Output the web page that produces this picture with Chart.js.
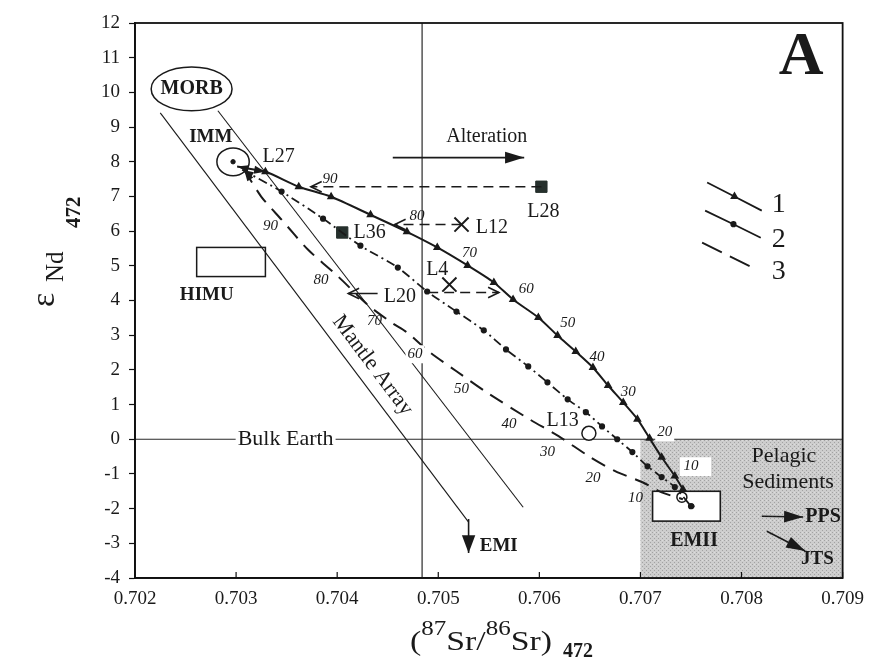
<!DOCTYPE html>
<html>
<head>
<meta charset="utf-8">
<script src="https://cdn.jsdelivr.net/npm/chart.js@4.4.1/dist/chart.umd.min.js"></script>
<style>html,body{margin:0;padding:0;background:#fff}</style>
</head>
<body>
<canvas id="grafico" width="874" height="660"></canvas>
<script>
// axes
const srTicks = [0.702, 0.703, 0.704, 0.705, 0.706, 0.707, 0.708, 0.709];
const ndTicks = [-4, -3, -2, -1, 0, 1, 2, 3, 4, 5, 6, 7, 8, 9, 10, 11, 12];

// mixing curve 1 (solid with ticks)
const curva1Sr = [0.70301, 0.70329, 0.70362, 0.70394, 0.70433, 0.70469, 0.70499, 0.70529, 0.70555, 0.70574, 0.70599, 0.70618, 0.70636, 0.70653, 0.70668, 0.70683, 0.70697, 0.70709, 0.70721, 0.70734, 0.70742];
const curva1Nd = [7.86, 7.71, 7.28, 6.99, 6.47, 5.98, 5.53, 5.01, 4.52, 4.03, 3.51, 2.99, 2.53, 2.07, 1.55, 1.06, 0.58, 0.03, -0.52, -1.06, -1.44];
// mixing curve 2 (dash-dot)
const curva2Sr = [0.70306, 0.70345, 0.70386, 0.70423, 0.70460, 0.70489, 0.70518, 0.70545, 0.70567, 0.70589, 0.70608, 0.70628, 0.70646, 0.70662, 0.70677, 0.70692, 0.70707, 0.70721, 0.70734, 0.70750];
const curva2Nd = [7.77, 7.14, 6.36, 5.58, 4.95, 4.26, 3.68, 3.14, 2.59, 2.10, 1.64, 1.15, 0.78, 0.37, 0.00, -0.37, -0.78, -1.09, -1.38, -1.93];
// mixing curve 3 (dashed)
const curva3Sr = [0.70308, 0.70325, 0.70345, 0.70371, 0.70401, 0.70430, 0.70455, 0.70469, 0.70492, 0.70518, 0.70548, 0.70590, 0.70619, 0.70649, 0.70675, 0.70702, 0.70721, 0.70742];
const curva3Nd = [7.77, 6.99, 6.33, 5.47, 4.69, 3.88, 3.34, 3.08, 2.50, 1.96, 1.35, 0.58, 0.09, -0.49, -0.92, -1.24, -1.53, -1.73];

// mantle array
const manto1Sr = [0.70225, 0.70530];
const manto1Nd = [9.41, -2.39];
const manto2Sr = [0.70282, 0.70584];
const manto2Nd = [9.47, -1.96];

// samples
const cuadradosSr = [0.70602, 0.70405];   // L28, L36
const cuadradosNd = [7.28, 5.96];
const cruzSr = [0.70523, 0.70511];        // L12, L4
const cruzNd = [6.19, 4.46];
const circuloSr = [0.70649];              // L13
const circuloNd = [0.17];
const extremosSr = [0.70297, 0.70751];    // IMM, EMII end members
const extremosNd = [8.0, -1.93];

// horizontal shifts of samples (L28, L12, L4, L20)
const desplazSr0 = [0.70602, 0.70523, 0.70490, 0.70440];
const desplazSr1 = [0.70374, 0.70457, 0.70560, 0.70411];
const desplazNd = [7.28, 6.19, 4.23, 4.20];
const desplazDash = [true, true, true, false];

// arrows: Alteration, EMI, PPS, JTS
const flechaSr0 = [0.70455, 0.70530, 0.70820, 0.70825];
const flechaSr1 = [0.70585, 0.70530, 0.70861, 0.70863];
const flechaNd0 = [8.12, -2.30, -2.22, -2.65];
const flechaNd1 = [8.12, -3.28, -2.24, -3.22];

// boxes / fields
const pelagicSr = [0.7070, 0.7090];
const pelagicNd = [-4, 0];
const emiiSr = [0.70712, 0.70779];
const emiiNd = [-2.36, -1.50];
const himuSr = [0.70261, 0.70329];
const himuNd = [4.69, 5.53];
const morbSr = [0.70216, 0.70296];
const morbNd = [9.47, 10.73];
const immSr = [0.70281, 0.70313];
const immNd = [7.6, 8.4];
const bulkEarthNd = 0;
const lineaVerticalSr = 0.70484;

// legend sample lines
const ley1Sr = [0.70766, 0.70793, 0.70820];
const ley1Nd = [7.40, 7.00, 6.59];
const ley2Sr = [0.70764, 0.70792, 0.70819];
const ley2Nd = [6.59, 6.20, 5.81];
const ley3Sr = [0.70761, 0.70815];
const ley3Nd = [5.67, 4.89];

const serif = '"Liberation Serif", "Times New Roman", serif';
const pts = (xs, ys) => xs.map((x, i) => ({ x: x, y: Array.isArray(ys) ? ys[i] : ys }));

const etiquetas = [
  { t: 'MORB', x: 0.70256, y: 10.10, f: 'bold 20px ' + serif },
  { t: 'IMM', x: 0.70275, y: 8.72, f: 'bold 19px ' + serif },
  { t: 'HIMU', x: 0.70271, y: 4.17, f: 'bold 19px ' + serif },
  { t: 'L27', x: 0.70342, y: 8.14, f: '20px ' + serif },
  { t: 'Alteration', x: 0.70548, y: 8.72, f: '20px ' + serif },
  { t: 'L28', x: 0.70604, y: 6.56, f: '20px ' + serif },
  { t: 'L36', x: 0.70432, y: 5.96, f: '20px ' + serif },
  { t: 'L12', x: 0.70553, y: 6.10, f: '20px ' + serif },
  { t: 'L4', x: 0.70499, y: 4.89, f: '20px ' + serif },
  { t: 'L20', x: 0.70462, y: 4.12, f: '20px ' + serif },
  { t: 'L13', x: 0.70623, y: 0.52, f: '20px ' + serif },
  { t: 'Bulk Earth', x: 0.70349, y: 0, f: '22px ' + serif, bg: true },
  { t: 'EMI', x: 0.70541, y: -3.08, f: 'bold 19px ' + serif, a: 'left' },
  { t: 'EMII', x: 0.70753, y: -2.94, f: 'bold 20px ' + serif },
  { t: 'Pelagic', x: 0.70842, y: -0.49, f: '22px ' + serif },
  { t: 'Sediments', x: 0.70846, y: -1.24, f: '22px ' + serif },
  { t: 'PPS', x: 0.70863, y: -2.24, f: 'bold 20px ' + serif, a: 'left' },
  { t: 'JTS', x: 0.70875, y: -3.45, f: 'bold 19px ' + serif },
  { t: '1', x: 0.70830, y: 6.76, f: '28px ' + serif, a: 'left' },
  { t: '2', x: 0.70830, y: 5.76, f: '28px ' + serif, a: 'left' },
  { t: '3', x: 0.70830, y: 4.83, f: '28px ' + serif, a: 'left' },
  { t: 'A', x: 0.70859, y: 11.0, f: 'bold 62px ' + serif },
  // percentages curve 1
  { t: '90', x: 0.70393, y: 7.51, f: 'italic 15px ' + serif },
  { t: '80', x: 0.70479, y: 6.42, f: 'italic 15px ' + serif },
  { t: '70', x: 0.70531, y: 5.38, f: 'italic 15px ' + serif },
  { t: '60', x: 0.70587, y: 4.32, f: 'italic 15px ' + serif },
  { t: '50', x: 0.70628, y: 3.34, f: 'italic 15px ' + serif },
  { t: '40', x: 0.70657, y: 2.36, f: 'italic 15px ' + serif },
  { t: '30', x: 0.70688, y: 1.35, f: 'italic 15px ' + serif },
  { t: '20', x: 0.70724, y: 0.20, f: 'italic 15px ' + serif, bg: true },
  { t: '10', x: 0.70750, y: -0.78, f: 'italic 15px ' + serif },
  // percentages curve 3
  { t: '90', x: 0.70334, y: 6.16, f: 'italic 15px ' + serif },
  { t: '80', x: 0.70384, y: 4.60, f: 'italic 15px ' + serif },
  { t: '70', x: 0.70437, y: 3.40, f: 'italic 15px ' + serif },
  { t: '60', x: 0.70477, y: 2.45, f: 'italic 15px ' + serif, bg: true },
  { t: '50', x: 0.70523, y: 1.44, f: 'italic 15px ' + serif },
  { t: '40', x: 0.70570, y: 0.43, f: 'italic 15px ' + serif },
  { t: '30', x: 0.70608, y: -0.37, f: 'italic 15px ' + serif },
  { t: '20', x: 0.70653, y: -1.12, f: 'italic 15px ' + serif },
  { t: '10', x: 0.70695, y: -1.70, f: 'italic 15px ' + serif }
];

function punta(ctx, x0, y0, x1, y1, len, abre, abierta) {
  const ang = Math.atan2(y1 - y0, x1 - x0);
  const a1 = ang + Math.PI - abre, a2 = ang + Math.PI + abre;
  ctx.beginPath();
  ctx.moveTo(x1 + len * Math.cos(a1), y1 + len * Math.sin(a1));
  ctx.lineTo(x1, y1);
  ctx.lineTo(x1 + len * Math.cos(a2), y1 + len * Math.sin(a2));
  if (abierta) {
    ctx.stroke();
  } else {
    ctx.closePath();
    ctx.fill();
  }
}

function trama() {
  const c = document.createElement('canvas');
  c.width = 4; c.height = 4;
  const g = c.getContext('2d');
  g.fillStyle = '#cdcdcd';
  g.fillRect(0, 0, 4, 4);
  g.fillStyle = '#a2a2a2';
  g.fillRect(0, 0, 1, 1);
  g.fillRect(2, 2, 1, 1);
  g.fillStyle = '#dcdcdc';
  g.fillRect(2, 0, 1, 1);
  return c;
}

const decor = {
  id: 'decor',
  beforeDatasetsDraw(chart) {
    const { ctx, chartArea: a, scales } = chart;
    const X = v => scales.x.getPixelForValue(v), Y = v => scales.y.getPixelForValue(v);
    ctx.save();
    ctx.fillStyle = ctx.createPattern(trama(), 'repeat');
    ctx.fillRect(X(pelagicSr[0]), Y(pelagicNd[1]), X(pelagicSr[1]) - X(pelagicSr[0]), Y(pelagicNd[0]) - Y(pelagicNd[1]));
    // white box behind "10"
    ctx.fillStyle = '#fff';
    ctx.fillRect(X(0.70739), Y(-0.52), X(0.70770) - X(0.70739), Y(-1.06) - Y(-0.52));
    // EMII box
    ctx.fillRect(X(emiiSr[0]), Y(emiiNd[1]), X(emiiSr[1]) - X(emiiSr[0]), Y(emiiNd[0]) - Y(emiiNd[1]));
    ctx.strokeStyle = '#1a1a1a';
    ctx.lineWidth = 1.6;
    ctx.strokeRect(X(emiiSr[0]), Y(emiiNd[1]), X(emiiSr[1]) - X(emiiSr[0]), Y(emiiNd[0]) - Y(emiiNd[1]));
    // reference lines
    ctx.strokeStyle = '#2a2a2a';
    ctx.lineWidth = 1.2;
    ctx.beginPath();
    ctx.moveTo(X(lineaVerticalSr), a.top);
    ctx.lineTo(X(lineaVerticalSr), a.bottom);
    ctx.moveTo(a.left, Y(bulkEarthNd));
    ctx.lineTo(a.right, Y(bulkEarthNd));
    ctx.stroke();
    ctx.restore();
  },
  afterDatasetsDraw(chart) {
    const { ctx, scales } = chart;
    const X = v => scales.x.getPixelForValue(v), Y = v => scales.y.getPixelForValue(v);
    ctx.save();
    ctx.strokeStyle = '#1a1a1a';
    ctx.fillStyle = '#1a1a1a';
    ctx.lineWidth = 1.5;
    // MORB and IMM ellipses, HIMU box
    [[morbSr, morbNd], [immSr, immNd]].forEach(([sx, sy]) => {
      const cx = (X(sx[0]) + X(sx[1])) / 2, cy = (Y(sy[0]) + Y(sy[1])) / 2;
      ctx.beginPath();
      ctx.ellipse(cx, cy, (X(sx[1]) - X(sx[0])) / 2, (Y(sy[0]) - Y(sy[1])) / 2, 0, 0, Math.PI * 2);
      ctx.stroke();
    });
    ctx.strokeRect(X(himuSr[0]), Y(himuNd[1]), X(himuSr[1]) - X(himuSr[0]), Y(himuNd[0]) - Y(himuNd[1]));
    // arrowheads on mixing curves (toward IMM)
    [[curva1Sr, curva1Nd], [curva2Sr, curva2Nd], [curva3Sr, curva3Nd]].forEach(([sx, sy]) => {
      punta(ctx, X(sx[1]), Y(sy[1]), X(sx[0]), Y(sy[0]), 12, 0.3, false);
    });
    // L27 arrow
    punta(ctx, X(curva1Sr[0]), Y(curva1Nd[0]), X(curva1Sr[1]), Y(curva1Nd[1]), 12, 0.35, false);
    // open heads of sample shifts
    ctx.lineWidth = 1.6;
    desplazSr0.forEach((s0, i) => {
      punta(ctx, X(s0), Y(desplazNd[i]), X(desplazSr1[i]), Y(desplazNd[i]), 12, 0.45, true);
    });
    // filled arrows
    flechaSr0.forEach((s0, i) => {
      punta(ctx, X(s0), Y(flechaNd0[i]), X(flechaSr1[i]), Y(flechaNd1[i]), i === 1 ? 19 : 20, i === 1 ? 0.36 : 0.3, false);
    });
    // texts
    ctx.textBaseline = 'middle';
    etiquetas.forEach(e => {
      ctx.font = e.f;
      ctx.textAlign = e.a || 'center';
      const px = X(e.x), py = Y(e.y);
      if (e.bg) {
        const w = ctx.measureText(e.t).width;
        const x0 = e.a === 'left' ? px : px - w / 2;
        ctx.fillStyle = '#fff';
        ctx.fillRect(x0 - 2, py - 9, w + 4, 18);
      }
      ctx.fillStyle = '#1a1a1a';
      ctx.fillText(e.t, px, py);
    });
    // Mantle Array label along the lines
    const ang = Math.atan2(Y(manto1Nd[1]) - Y(manto1Nd[0]), X(manto1Sr[1]) - X(manto1Sr[0]));
    ctx.translate(X(0.70435), Y(2.13));
    ctx.rotate(ang);
    ctx.font = '22px ' + serif;
    ctx.textAlign = 'center';
    ctx.fillText('Mantle Array', 0, 0);
    ctx.restore();
  },
  afterDraw(chart) {
    const { ctx, chartArea: a, scales } = chart;
    ctx.save();
    ctx.strokeStyle = '#111';
    ctx.lineWidth = 1.8;
    ctx.strokeRect(a.left, a.top, a.right - a.left, a.bottom - a.top);
    // inward x ticks
    ctx.lineWidth = 1.2;
    ctx.beginPath();
    srTicks.forEach(v => {
      const px = scales.x.getPixelForValue(v);
      ctx.moveTo(px, a.bottom);
      ctx.lineTo(px, a.bottom - 6);
    });
    ctx.stroke();
    // x title (87Sr/86Sr) 472, slightly widened like the original type
    ctx.fillStyle = '#1a1a1a';
    ctx.textBaseline = 'alphabetic';
    ctx.textAlign = 'left';
    ctx.save();
    ctx.translate(410, 650);
    ctx.scale(1.25, 1);
    const partes = [
      ['(', '27px ' + serif, 0], ['87', '20px ' + serif, -15], ['Sr/', '27px ' + serif, 0],
      ['86', '20px ' + serif, -15], ['Sr)', '27px ' + serif, 0]
    ];
    let cx = 0;
    partes.forEach(([t, f, dy]) => {
      ctx.font = f;
      ctx.fillText(t, cx, dy);
      cx += ctx.measureText(t).width;
    });
    ctx.restore();
    ctx.font = 'bold 20px ' + serif;
    ctx.fillText('472', 563, 657);
    // y title εNd 472
    ctx.rotate(-Math.PI / 2);
    ctx.font = '34px ' + serif;
    ctx.fillText('ε', -307, 54);
    ctx.font = '25px ' + serif;
    ctx.fillText('Nd', -282, 63);
    ctx.font = 'bold 21px ' + serif;
    ctx.fillText('472', -228, 80);
    ctx.restore();
  }
};

const linea = (xs, ys, extra) => Object.assign({
  data: pts(xs, ys), showLine: true, borderColor: '#1a1a1a', backgroundColor: '#1a1a1a',
  borderWidth: 1.2, pointRadius: 0, fill: false, tension: 0
}, extra);

const datasets = [
  linea(manto1Sr, manto1Nd, { borderWidth: 1.1 }),
  linea(manto2Sr, manto2Nd, { borderWidth: 1.1 }),
  linea(curva1Sr, curva1Nd, { borderWidth: 2, tension: 0.25, pointStyle: 'triangle', pointRadius: curva1Sr.map((v, i) => i === 0 ? 0 : 3) }),
  linea(curva2Sr, curva2Nd, { borderWidth: 1.8, borderDash: [9, 4, 2, 4], tension: 0.25, pointStyle: 'circle', pointRadius: curva2Sr.map((v, i) => i === 0 ? 0 : 2.2) }),
  linea(curva3Sr, curva3Nd, { borderWidth: 2, borderDash: [15, 9], tension: 0.25 }),
  linea(ley1Sr, ley1Nd, { borderWidth: 1.8, pointStyle: 'triangle', pointRadius: [0, 3.2, 0] }),
  linea(ley2Sr, ley2Nd, { borderWidth: 1.8, pointStyle: 'circle', pointRadius: [0, 2.2, 0] }),
  linea(ley3Sr, ley3Nd, { borderWidth: 1.8, borderDash: [22, 9] })
];
desplazSr0.forEach((s0, i) => {
  datasets.push(linea([s0, desplazSr1[i]], desplazNd[i], { borderWidth: 1.6, borderDash: desplazDash[i] ? [10, 6] : [] }));
});
flechaSr0.forEach((s0, i) => {
  datasets.push(linea([s0, flechaSr1[i]], [flechaNd0[i], flechaNd1[i]], { borderWidth: 1.6 }));
});
datasets.push(
  { data: pts(cuadradosSr, cuadradosNd), pointStyle: 'rect', pointRadius: 8, backgroundColor: '#26302d', borderColor: '#26302d', showLine: false },
  { data: pts(cruzSr, cruzNd), pointStyle: 'crossRot', pointRadius: 10, borderColor: '#1a1a1a', borderWidth: 2, showLine: false },
  { data: pts(circuloSr, circuloNd), pointStyle: 'circle', pointRadius: 7, backgroundColor: '#fff', borderColor: '#1a1a1a', borderWidth: 1.5, showLine: false },
  { data: pts([0.70741], [-1.67]), pointStyle: 'circle', pointRadius: 5, backgroundColor: '#fff', borderColor: '#1a1a1a', borderWidth: 1.5, showLine: false },
  { data: pts(extremosSr, extremosNd), pointStyle: 'circle', pointRadius: 2.2, backgroundColor: '#1a1a1a', borderColor: '#1a1a1a', showLine: false }
);

new Chart(document.getElementById('grafico'), {
  type: 'scatter',
  data: { datasets: datasets },
  options: {
    responsive: false,
    animation: false,
    layout: { padding: { top: 23, right: 24, left: 0, bottom: 0 } },
    plugins: { legend: { display: false }, tooltip: { enabled: false } },
    scales: {
      x: {
        type: 'linear', min: 0.702, max: 0.709,
        afterBuildTicks: s => { s.ticks = srTicks.map(v => ({ value: v })); },
        afterFit: s => { s.height = 82; },
        ticks: { callback: v => v.toFixed(3), font: { family: serif, size: 19 }, color: '#1a1a1a', padding: 10, maxRotation: 0, autoSkip: false },
        grid: { drawOnChartArea: false, drawTicks: false },
        border: { color: '#111', width: 1.8 }
      },
      y: {
        type: 'linear', min: -4, max: 12,
        afterBuildTicks: s => { s.ticks = ndTicks.map(v => ({ value: v })); },
        afterFit: s => { s.width = 135; },
        ticks: { font: { family: serif, size: 19 }, color: '#1a1a1a', padding: 9, autoSkip: false },
        grid: { drawOnChartArea: false, tickLength: 6, color: '#111', tickWidth: 1.2 },
        border: { color: '#111', width: 1.8 }
      }
    }
  },
  plugins: [decor]
});
</script>
</body>
</html>
